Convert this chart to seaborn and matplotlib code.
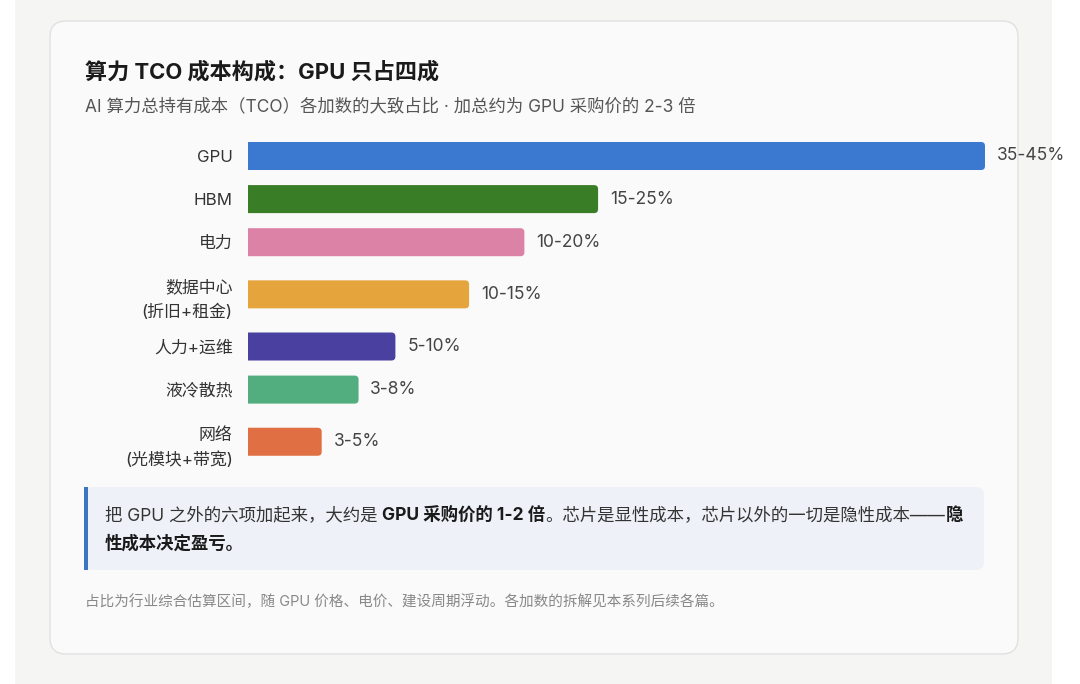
import numpy as np
import matplotlib
matplotlib.use("Agg")
import matplotlib.pyplot as plt
from matplotlib.patches import FancyBboxPatch, Rectangle
import seaborn as sns

# data
categories = ["GPU", "HBM", "电力", "数据中心\n(折旧+租金)", "人力+运维", "液冷散热", "网络\n(光模块+带宽)"]
bar_values = [40, 19, 15, 12, 8, 6, 4]
range_labels = ["35-45%", "15-25%", "10-20%", "10-15%", "5-10%", "3-8%", "3-5%"]
bar_colors = ["#3b78cf", "#3a7d27", "#dc82a6", "#e6a43d", "#4a40a0", "#53ae7f", "#e07043"]

title = "算力 TCO 成本构成：GPU 只占四成"
subtitle = "AI 算力总持有成本（TCO）各加数的大致占比 · 加总约为 GPU 采购价的 2-3 倍"
callout_lines = [
    [("把 GPU 之外的六项加起来，大约是 ", "normal"), ("GPU 采购价的 1-2 倍", "bold"),
     ("。芯片是显性成本，芯片以外的一切是隐性成本——", "normal"), ("隐", "bold")],
    [("性成本决定盈亏。", "bold")],
]
footnote = "占比为行业综合估算区间，随 GPU 价格、电价、建设周期浮动。各加数的拆解见本系列后续各篇。"

sns.set_style("white")
plt.rcParams["font.family"] = ["Inter", "Noto Sans CJK SC", "DejaVu Sans"]

W, H = 1080, 684
fig = plt.figure(figsize=(W / 100, H / 100), dpi=100, facecolor="white")

# background layer in pixel coordinates
bg = fig.add_axes([0, 0, 1, 1], zorder=0)
bg.set_xlim(0, W)
bg.set_ylim(H, 0)
bg.axis("off")
bg.add_patch(Rectangle((15, 0), 1037, H, facecolor="#f5f5f3", edgecolor="none"))
bg.add_patch(FancyBboxPatch((50, 21), 968, 633, boxstyle="round,pad=0,rounding_size=16",
                            facecolor="#fafafa", edgecolor="#e1e1e1", linewidth=1))

bg.text(85, 72, title, fontsize=15.9, fontweight="bold", color="#1a1a1a", va="center")
bg.text(85, 107, subtitle, fontsize=12.5, color="#555555", va="center")

# callout
bg.add_patch(FancyBboxPatch((84, 487), 900, 83, boxstyle="round,pad=0,rounding_size=8",
                            facecolor="#eef2f8", edgecolor="none"))
bg.add_patch(Rectangle((84, 487), 3.5, 83, facecolor="#3a76c4", edgecolor="none"))
renderer = fig.canvas.get_renderer()
for i, segs in enumerate(callout_lines):
    x = 105
    y = 516 + i * 28
    for txt, wt in segs:
        t = bg.text(x, y, txt, fontsize=12.55, fontweight=wt,
                    color="#1a1a1a" if wt == "bold" else "#333333", va="center")
        x += t.get_window_extent(renderer).width

bg.text(85, 602, footnote, fontsize=10.5, color="#888888", va="center")

# bar chart: rows with two-line labels are taller
lines = np.array([c.count("\n") + 1 for c in categories])
row_h = 1 + 0.42 * (lines - 1)
pos = np.concatenate([[0], np.cumsum((row_h[:-1] + row_h[1:]) / 2)])

unit = 43.1
top_px = 156 - 0.5 * unit
bot_px = 156 + (pos[-1] + 0.5) * unit
left_px, right_px = 248, 985
ax = fig.add_axes([left_px / W, 1 - bot_px / H, (right_px - left_px) / W, (bot_px - top_px) / H], zorder=1)
ax.patch.set_alpha(0)

sns.barplot(x=bar_values, y=pos, hue=categories, palette=bar_colors, orient="y",
            native_scale=True, width=0.65, legend=False, saturation=1, ax=ax)

# rounded right ends; the rounded left end is pushed past the axis and clipped
xpx = (right_px - left_px) / 40
r = 4 / xpx
for p in list(ax.patches):
    x0, y0, w, h = p.get_x(), p.get_y(), p.get_width(), p.get_height()
    c = p.get_facecolor()
    p.set_visible(False)
    ax.add_patch(FancyBboxPatch((x0 - 2 * r, y0), w + 2 * r, h,
                                boxstyle=f"round,pad=0,rounding_size={r}",
                                mutation_aspect=xpx / unit, facecolor=c, edgecolor="none"))

ax.set_xlim(0, 40)
ax.set_ylim(pos[-1] + 0.5, -0.5)
ax.set_yticks(pos)
ax.set_yticklabels(categories, fontsize=12.2, color="#333333", linespacing=1.6)
ax.tick_params(axis="y", length=0, pad=11)
ax.set_xticks([])
ax.set_xlabel("")
ax.set_ylabel("")
sns.despine(ax=ax, left=True, bottom=True)

for v, p, lab in zip(bar_values, pos, range_labels):
    ax.annotate(lab, (v, p), xytext=(8.5, 0), textcoords="offset points",
                va="center", ha="left", fontsize=12.5, color="#444444", annotation_clip=False)

fig.savefig("out.png", dpi=100)
